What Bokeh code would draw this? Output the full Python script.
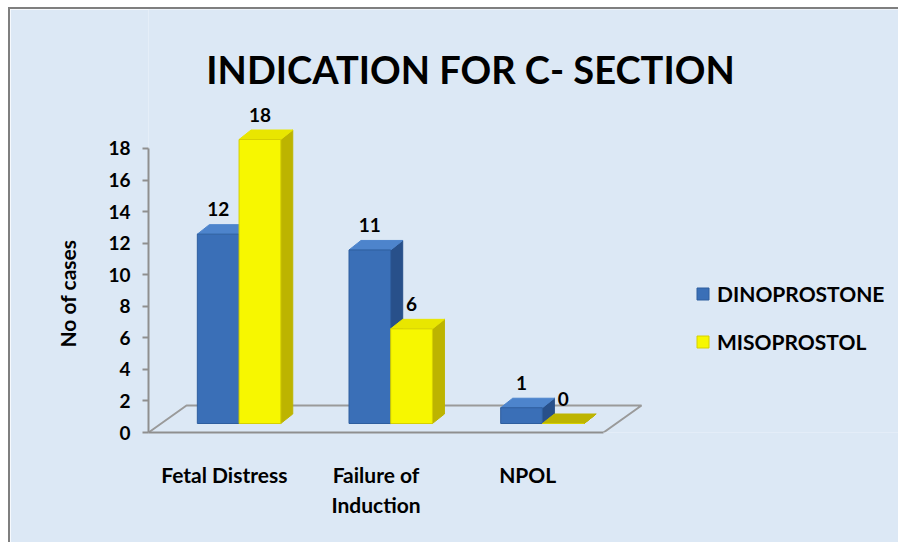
from bokeh.plotting import figure
from bokeh.models import (Range1d, FixedTicker, Legend, LegendItem, Label,
                          ColumnDataSource, Title)
from bokeh.core.properties import value
from bokeh.embed import file_html
from bokeh.resources import INLINE

# ---------------- data ----------------
categories = ["Fetal Distress", "Failure of Induction", "NPOL"]
category_tick_labels = ["Fetal Distress", "Failure of\nInduction", "NPOL"]
series_names = ["DINOPROSTONE", "MISOPROSTOL"]
dinoprostone = [12, 11, 1]
misoprostol = [18, 6, 0]
y_ticks = [0, 2, 4, 6, 8, 10, 12, 14, 16, 18]
title_text = "INDICATION FOR C- SECTION"
y_axis_label = "No of cases"

# ---------------- styling / layout constants ----------------
FONT = "Lato"
BG = "#dce8f5"
AXIS_GREY = "#8f8f8f"
front_colors = ["#3a6fb7", "#f7f700"]
top_colors = ["#4d84cc", "#e9e600"]
side_colors = ["#28508a", "#bdb400"]
edge_colors = ["#2e5e9e", "#d6d000"]

OX, OY = 10, 9                 # canvas origin inside the page (after border)
W, H = 900 - OX, 544 - OY
FRAME_LEFT = 148 - OX
FRAME_TOP = 0
FRAME_BOTTOM = 432 - OY        # canvas y of the value axis zero
PX_X = 151.67                  # pixels per category
PX_Y = 15.778                  # pixels per case

BAR_W = 0.275
SHIFT_X = 0.097                # depth placement of the bars on the floor
BASE = 0.57
DX = 12 / PX_X                 # bar depth (projection)
DY = 9.5 / PX_Y
FLOOR_DX = 38 / PX_X
FLOOR_DY = 27 / PX_Y

n = len(categories)

p = figure(width=W, height=H, output_backend="svg", toolbar_location=None,
           x_range=Range1d(0, (900 - 148) / PX_X),
           y_range=Range1d(0, (FRAME_BOTTOM - FRAME_TOP) / PX_Y),
           min_border_left=FRAME_LEFT, min_border_right=0,
           min_border_top=FRAME_TOP, min_border_bottom=H - FRAME_BOTTOM)
p.styles = {"margin-left": "8px", "margin-top": "7px",
            "border-left": "2px solid #7f7f7f", "border-top": "2px solid #7f7f7f"}
p.background_fill_color = BG
p.border_fill_color = BG
p.outline_line_color = None
p.xgrid.visible = False
p.ygrid.visible = False

# floor of the 3D plot (outline)
p.line(x=[0, FLOOR_DX, n + FLOOR_DX, n], y=[0, FLOOR_DY, FLOOR_DY, 0],
       line_color="#9a9a9a", line_width=2)

# bars
series = [dinoprostone, misoprostol]
front_renderers = []
for s, vals in enumerate(series):
    xc = [i + 0.5 + SHIFT_X + (s - 0.5) * BAR_W for i in range(n)]
    xl = [x - BAR_W / 2 for x in xc]
    xr = [x + BAR_W / 2 for x in xc]
    tops = [BASE + v for v in vals]
    side_xs = [[r, r + DX, r + DX, r] for r in xr]
    side_ys = [[BASE, BASE + DY, t + DY, t] for t in tops]
    top_xs = [[l, l + DX, r + DX, r] for l, r in zip(xl, xr)]
    top_ys = [[t, t + DY, t + DY, t] for t in tops]
    tcol = [side_colors[s] if v == 0 else top_colors[s] for v in vals]
    p.patches(xs=side_xs, ys=side_ys, fill_color=side_colors[s],
              line_color=side_colors[s], line_width=1)
    p.patches(xs=top_xs, ys=top_ys, fill_color=tcol, line_color=tcol,
              line_width=1)
    src = ColumnDataSource(dict(x=xc, top=tops, v=vals,
                                lab=[str(v) for v in vals]))
    r = p.vbar(x="x", top="top", bottom=BASE, width=BAR_W, source=src,
               fill_color=front_colors[s], line_color=edge_colors[s],
               line_width=1)
    front_renderers.append(r)
    p.text(x="x", y="top", text="lab", source=src, y_offset=-25,
           text_align="center", text_baseline="middle",
           text_font=value(FONT), text_font_style="bold",
           text_font_size="19px", text_color="black")

# axes
p.xaxis.ticker = FixedTicker(ticks=[i + 0.5 for i in range(n)])
p.xaxis.major_label_overrides = {i + 0.5: lab for i, lab in enumerate(category_tick_labels)}
p.xaxis.bounds = (0, n)
p.xaxis.axis_line_color = AXIS_GREY
p.xaxis.axis_line_width = 2
p.xaxis.major_tick_out = 0
p.xaxis.major_tick_in = 0
p.xaxis.minor_tick_line_color = None
p.xaxis.major_label_standoff = 29
p.xaxis.major_label_text_font = FONT
p.xaxis.major_label_text_font_style = "bold"
p.xaxis.major_label_text_font_size = "21px"
p.xaxis.major_label_text_color = "black"

p.yaxis.ticker = FixedTicker(ticks=y_ticks)
p.yaxis.bounds = (y_ticks[0], y_ticks[-1])
p.yaxis.axis_line_color = AXIS_GREY
p.yaxis.axis_line_width = 2
p.yaxis.major_tick_line_color = AXIS_GREY
p.yaxis.major_tick_line_width = 2
p.yaxis.major_tick_out = 6
p.yaxis.major_tick_in = 0
p.yaxis.minor_tick_line_color = None
p.yaxis.major_label_standoff = 12
p.yaxis.major_label_text_font = FONT
p.yaxis.major_label_text_font_style = "bold"
p.yaxis.major_label_text_font_size = "19px"
p.yaxis.major_label_text_color = "black"

# y-axis title in the left panel, starting low on the 0..18 span
p.add_layout(Title(text=y_axis_label, align="left", vertical_align="middle",
                   offset=432 - 347, standoff=50,
                   text_font=FONT, text_font_style="bold",
                   text_font_size="21px", text_color="black"), "left")

# chart title
p.add_layout(Label(x=(470 - 148) / PX_X, y=(432 - 68) / PX_Y, text=title_text,
                   text_align="center", text_baseline="middle",
                   text_font=FONT, text_font_style="bold",
                   text_font_size="38px", text_color="black"))

# legend
legend = Legend(items=[LegendItem(label=name, renderers=[r])
                       for name, r in zip(series_names, front_renderers)],
                location=(695 - 148, 432 - 354), orientation="vertical",
                padding=0, margin=0, spacing=23, label_standoff=7,
                glyph_width=15, glyph_height=15, label_height=24,
                background_fill_alpha=0, border_line_color=None,
                label_text_font=FONT, label_text_font_style="bold",
                label_text_font_size="21px", label_text_color="black")
p.add_layout(legend)

open("out.html", "w").write(file_html(p, INLINE))
